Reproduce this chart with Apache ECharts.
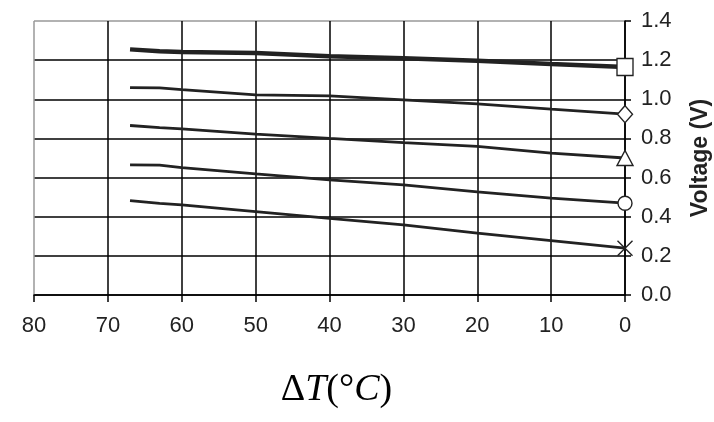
<!DOCTYPE html>
<html>
<head>
<meta charset="utf-8">
<script src="https://cdn.jsdelivr.net/npm/echarts@6/dist/echarts.min.js"></script>
<style>
  html, body { margin: 0; padding: 0; background: #fff; }
  #chart { width: 714px; height: 422px; }
</style>
</head>
<body>
<div id="chart"></div>
<script>
// temperature difference (x), shared by all curves
const deltaT = [67, 63, 60, 50, 40, 30, 20, 10, 0]

// voltage curves, top to bottom
const voltSquare = [1.255, 1.245, 1.242, 1.236, 1.22, 1.21, 1.197, 1.18, 1.165]
const voltDiamond = [1.06, 1.058, 1.049, 1.023, 1.017, 0.997, 0.977, 0.95, 0.924]
const voltTriangle = [0.866, 0.855, 0.849, 0.822, 0.8, 0.779, 0.759, 0.725, 0.7]
const voltCircle = [0.665, 0.664, 0.651, 0.619, 0.588, 0.563, 0.527, 0.495, 0.469]
const voltCross = [0.482, 0.468, 0.46, 0.426, 0.392, 0.358, 0.316, 0.278, 0.239]

const ink = '#222'
const font = 'Liberation Sans, Arial, sans-serif'
const serif = 'Liberation Serif, Times New Roman, serif'

const chart = echarts.init(document.getElementById('chart'))

const curve = (values, symbol, size, width) => ({
  type: 'line',
  data: deltaT.map((t, i) => [t, values[i]]),
  symbol,
  symbolSize: (v, p) => (p.dataIndex === deltaT.length - 1 ? size : 0),
  showAllSymbol: true,
  lineStyle: { color: ink, width: width || 2.8 },
  itemStyle: { color: '#fff', borderColor: ink, borderWidth: 1.4 },
  z: 5,
  animation: false
})

// grey outer border on the far edges, black grid elsewhere
const xSplit = ['#000', '#000', '#000', '#000', '#000', '#000', '#000', '#000', '#999']
const ySplit = ['#000', '#000', '#000', '#000', '#000', '#000', '#000', '#999']

chart.setOption({
  animation: false,
  grid: { left: 34, right: 89, top: 21, bottom: 127, outerBoundsMode: 'none', containLabel: false },
  xAxis: {
    type: 'value',
    min: 0,
    max: 80,
    interval: 10,
    inverse: true,
    name: '{a|Δ}{b|T}{a|(°}{b|C}{a|)}',
    nameLocation: 'middle',
    nameGap: 76,
    nameTextStyle: {
      padding: [0, 0, 0, 14],
      rich: {
        a: { fontFamily: serif, fontSize: 38, color: '#000' },
        b: { fontFamily: serif, fontSize: 38, fontStyle: 'italic', color: '#000' }
      }
    },
    axisLine: { lineStyle: { color: '#000', width: 1.5 } },
    axisTick: { show: true, length: 7, lineStyle: { color: '#000', width: 1.5 } },
    axisLabel: { color: ink, fontSize: 22, fontFamily: font, margin: 20 },
    splitLine: { show: true, lineStyle: { color: xSplit, width: 1.5 } }
  },
  yAxis: {
    type: 'value',
    position: 'right',
    min: 0,
    max: 1.4,
    interval: 0.2,
    name: 'Voltage (V)',
    nameLocation: 'middle',
    nameRotate: 90,
    nameGap: 64,
    nameTextStyle: { color: ink, fontSize: 23, fontWeight: 'bold', fontFamily: font },
    axisLine: { show: true, lineStyle: { color: '#000', width: 1.5 } },
    axisTick: { show: true, length: 6, lineStyle: { color: '#000', width: 1.5 } },
    axisLabel: { color: ink, fontSize: 22, fontFamily: font, margin: 16, formatter: (v) => v.toFixed(1) },
    splitLine: { show: true, lineStyle: { color: ySplit, width: 1.5 } }
  },
  series: [
    curve(voltSquare, 'rect', [16, 17], 4.5),
    curve(voltDiamond, 'diamond', [15, 17]),
    curve(voltTriangle, 'triangle', [16, 15]),
    curve(voltCircle, 'circle', 14),
    curve(voltCross, 'path://M0,0L10,10M10,0L0,10', [15, 15])
  ]
})
</script>
</body>
</html>
